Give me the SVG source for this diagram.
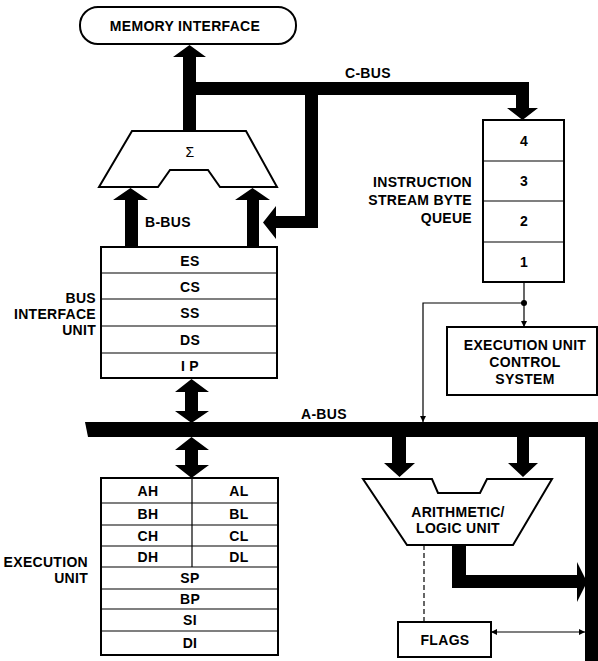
<svg xmlns="http://www.w3.org/2000/svg" width="598" height="661" viewBox="0 0 598 661">
<style>
text{font-family:"Liberation Sans",Arial,sans-serif;font-weight:bold;font-size:14px;fill:#000;letter-spacing:0.3px}
.m{text-anchor:middle;dominant-baseline:central}
.r{text-anchor:end;dominant-baseline:central}
.s{text-anchor:start;dominant-baseline:central}
.box{fill:#fff;stroke:#000;stroke-width:2}
.div{stroke:#000;stroke-width:1.2;fill:none}
.bus{fill:#000;stroke:none}
.thin{stroke:#000;stroke-width:1.2;fill:none}
</style>
<defs>
<marker id="ah" viewBox="0 0 10 10" refX="10" refY="5" markerWidth="8" markerHeight="6" orient="auto-start-reverse" markerUnits="userSpaceOnUse">
<path d="M0,0 L10,5 L0,10 z" fill="#000"/>
</marker>
</defs>
<g id="connectors">
<polygon class="bus" points="183,131 183,57 173,57 189.5,45 206,57 196,57 196,131"/>
<polygon class="bus" points="196,82 529,82 529,108 538,108 522.5,120 507,108 516,108 516,95 196,95"/>
<polygon class="bus" points="305,95 318,95 318,228 276,228 276,239 263,222.5 276,206 276,216 305,216"/>
<polygon class="bus" points="125,247 125,200 113,200 130.5,188 148,200 138,200 138,247"/>
<polygon class="bus" points="247,247 247,200 235,200 252.5,188 270,200 259,200 259,247"/>
<polygon class="bus" points="191.5,379 209,392 198,392 198,411 209,411 191.5,423 175,411 185,411 185,392 175,392"/>
<polygon class="bus" points="85,422 598,422 598,437 88,437"/>
<rect class="bus" x="585" y="422" width="13" height="239"/>
<polygon class="bus" points="191.5,437 209,450 198,450 198,465 209,465 191.5,478 175,465 185,465 185,450 175,450"/>
<polygon class="bus" points="392,437 406,437 406,463 415,463 399.5,477 384,463 392,463"/>
<polygon class="bus" points="517,437 529,437 529,463 538,463 523,477 508,463 517,463"/>
<polygon class="bus" points="452,545 466,545 466,575 577,575 577,562 587,582 577,602 577,588 452,588"/>
<line class="thin" x1="524" y1="282" x2="524" y2="327" marker-end="url(#ah)"/>
<circle cx="524" cy="303" r="3" fill="#000"/>
<polyline class="thin" points="524,303 423,303 423,422" marker-end="url(#ah)"/>
<line x1="424" y1="545" x2="424" y2="622" stroke="#000" stroke-width="1.2" stroke-dasharray="5,3"/>
<line class="thin" x1="491" y1="632" x2="585" y2="632" marker-start="url(#ah)" marker-end="url(#ah)"/>
<text class="s" x="345" y="73">C-BUS</text>
<text class="s" x="145" y="222">B-BUS</text>
<text class="s" x="301" y="414">A-BUS</text>
</g>
<g id="memory-interface">
<rect class="box" x="80" y="7" width="216" height="37" rx="18"/>
<text class="m" x="185" y="26">MEMORY INTERFACE</text>
</g>
<g id="sigma">
<polygon class="box" points="132,131 246,131 277,187 220,187 208,170 170,170 158,187 99,187"/>
<text class="m" x="190" y="152" style="font-weight:normal">Σ</text>
</g>
<g id="bus-interface-unit">
<rect class="box" x="101" y="247" width="176" height="131"/>
<line class="div" x1="101" y1="273" x2="277" y2="273"/>
<line class="div" x1="101" y1="299" x2="277" y2="299"/>
<line class="div" x1="101" y1="326" x2="277" y2="326"/>
<line class="div" x1="101" y1="353" x2="277" y2="353"/>
<text class="m" x="190" y="261">ES</text>
<text class="m" x="190" y="287">CS</text>
<text class="m" x="190" y="313">SS</text>
<text class="m" x="190" y="340">DS</text>
<text class="m" x="190" y="366">I P</text>
<text class="r" x="96" y="298">BUS</text>
<text class="r" x="96" y="314">INTERFACE</text>
<text class="r" x="96" y="330">UNIT</text>
</g>
<g id="instruction-queue">
<rect class="box" x="483" y="120" width="81" height="162"/>
<line class="div" x1="483" y1="161" x2="564" y2="161"/>
<line class="div" x1="483" y1="201" x2="564" y2="201"/>
<line class="div" x1="483" y1="242" x2="564" y2="242"/>
<text class="m" x="524" y="141">4</text>
<text class="m" x="524" y="181">3</text>
<text class="m" x="524" y="221">2</text>
<text class="m" x="524" y="262">1</text>
<text class="r" x="472" y="182">INSTRUCTION</text>
<text class="r" x="472" y="200">STREAM BYTE</text>
<text class="r" x="472" y="218">QUEUE</text>
</g>
<g id="execution-unit-control">
<rect class="box" x="447" y="327" width="150" height="68"/>
<text class="m" x="525" y="345">EXECUTION UNIT</text>
<text class="m" x="525" y="362">CONTROL</text>
<text class="m" x="525" y="379">SYSTEM</text>
</g>
<g id="execution-unit">
<rect class="box" x="101" y="478" width="177" height="177"/>
<line class="div" x1="101" y1="503" x2="278" y2="503"/>
<line class="div" x1="101" y1="525" x2="278" y2="525"/>
<line class="div" x1="101" y1="546" x2="278" y2="546"/>
<line class="div" x1="101" y1="567" x2="278" y2="567"/>
<line class="div" x1="101" y1="589" x2="278" y2="589"/>
<line class="div" x1="101" y1="609" x2="278" y2="609"/>
<line class="div" x1="101" y1="631" x2="278" y2="631"/>
<line class="div" x1="192" y1="478" x2="192" y2="567"/>
<text class="m" x="148" y="491">AH</text>
<text class="m" x="239" y="491">AL</text>
<text class="m" x="148" y="514">BH</text>
<text class="m" x="239" y="514">BL</text>
<text class="m" x="148" y="535.5">CH</text>
<text class="m" x="239" y="535.5">CL</text>
<text class="m" x="148" y="556.5">DH</text>
<text class="m" x="239" y="556.5">DL</text>
<text class="m" x="190" y="578">SP</text>
<text class="m" x="190" y="599">BP</text>
<text class="m" x="190" y="620">SI</text>
<text class="m" x="190" y="643">DI</text>
<text class="r" x="88" y="562">EXECUTION</text>
<text class="r" x="88" y="578">UNIT</text>
</g>
<g id="alu">
<polygon class="box" points="363,479 432,479 438,493 480,493 487,479 552,479 513,545 407,545"/>
<text class="m" x="458" y="512">ARITHMETIC/</text>
<text class="m" x="458" y="528">LOGIC UNIT</text>
</g>
<g id="flags">
<rect class="box" x="398" y="622" width="93" height="35"/>
<text class="m" x="445" y="640">FLAGS</text>
</g>
</svg>
